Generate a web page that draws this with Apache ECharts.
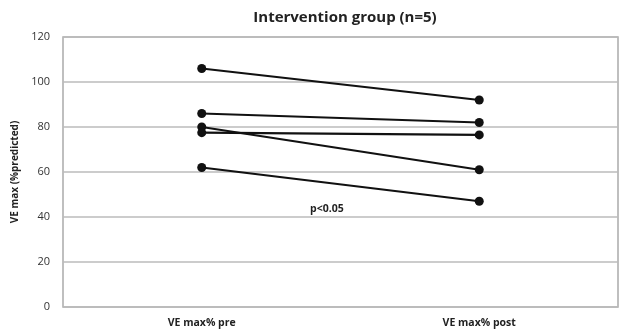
<!DOCTYPE html>
<html><head><meta charset="utf-8">
<script src="https://cdn.jsdelivr.net/npm/echarts@6/dist/echarts.min.js"></script>
<style>html,body{margin:0;padding:0;background:#fff}#c{width:623px;height:336px}</style>
</head><body><div id="c"></div>
<script>
const categories = ["VE max% pre", "VE max% post"];
const subject1 = [106, 92];
const subject2 = [86, 82];
const subject3 = [80, 61];
const subject4 = [77.5, 76.5];
const subject5 = [62, 47];
const yTicks = [0, 20, 40, 60, 80, 100, 120];
const titleText = "Intervention group (n=5)";
const yAxisName = "VE max (%predicted)";
const annotation = "p<0.05";

const font = "'Open Sans', sans-serif";
const chart = echarts.init(document.getElementById('c'));
const mk = d => ({
  type: 'line', data: d, symbol: 'circle', symbolSize: 9,
  lineStyle: {color: '#111', width: 2.2}, itemStyle: {color: '#111'},
  animation: false
});
chart.setOption({
  backgroundColor: '#fff',
  title: {text: titleText, left: 340, top: 5, textAlign: 'center',
    textStyle: {fontFamily: font, fontSize: 15, fontWeight: 'bold', color: '#222'}},
  grid: {left: 63, right: 5, top: 37, bottom: 29, show: true, borderColor: '#aaa', borderWidth: 1.5,
    containLabel: false, outerBoundsMode: 'none'},
  xAxis: {type: 'category', data: categories, boundaryGap: true,
    axisLine: {show: false}, axisTick: {show: false},
    axisLabel: {fontFamily: font, fontSize: 10.5, fontWeight: 'bold', color: '#222', margin: 11}},
  yAxis: {type: 'value', min: yTicks[0], max: yTicks[yTicks.length-1], interval: 20,
    name: yAxisName, nameLocation: 'middle', nameGap: 40, nameRotate: 90,
    nameTextStyle: {fontFamily: font, fontSize: 10, fontWeight: 'bold', color: '#222'},
    axisLine: {show: false}, axisTick: {show: false},
    axisLabel: {fontFamily: font, fontSize: 11, color: '#333', margin: 13},
    splitLine: {lineStyle: {color: '#bbb', width: 1.5}}},
  graphic: [{type: 'text', left: 310, top: 204,
    style: {text: annotation, font: "bold 10.5px 'Open Sans', sans-serif", fill: '#222'}}],
  series: [mk(subject1), mk(subject2), mk(subject3), mk(subject4), mk(subject5)]
});
</script></body></html>
